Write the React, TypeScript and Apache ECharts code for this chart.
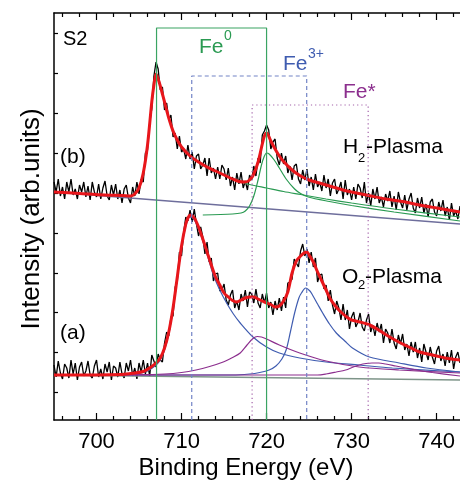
import React, { useEffect, useRef } from "react";
import * as echarts from "echarts";

// ---- axes ----
const xMin = 695;
const xMax = 742.75;
const yMin = 0;
const yMax = 407;
const majorTicks = [700, 710, 720, 730, 740];
const minorTicks = [696, 698, 702, 704, 706, 708, 712, 714, 716, 718, 722, 724, 726, 728, 732, 734, 736, 738, 742];
const yTicks = [28, 68, 108, 147, 187, 227, 267, 307, 347, 387];

// ---- measured spectra (sampled every 0.25 eV from 695 eV) ----
const energyStart = 695;
const energyStep = 0.25;
const rawB = [
  238, 228, 241, 224, 233, 221, 238, 228, 241, 225,
  231, 221, 235, 228, 238, 223, 234, 220, 238, 228,
  223, 236, 221, 232, 239, 224, 220, 235, 225, 236,
  221, 230, 217, 231, 235, 222, 217, 233, 224, 238,
  226, 241, 238, 267, 270, 297, 311, 344, 358, 351,
  330, 333, 310, 317, 300, 305, 283, 287, 271, 284,
  268, 271, 261, 275, 261, 268, 251, 264, 266, 251,
  255, 262, 244, 262, 247, 252, 241, 253, 241, 255,
  251, 240, 252, 234, 243, 230, 247, 236, 248, 232,
  239, 230, 245, 240, 254, 244, 262, 257, 285, 289,
  295, 290, 271, 278, 281, 262, 255, 267, 256, 264,
  247, 254, 240, 254, 256, 241, 236, 250, 240, 251,
  234, 243, 230, 246, 233, 238, 229, 245, 232, 241,
  224, 237, 241, 226, 231, 238, 221, 240, 225, 231,
  220, 233, 221, 236, 232, 222, 238, 217, 227, 214,
  231, 221, 233, 217, 223, 213, 226, 219, 229, 213,
  224, 210, 228, 218, 212, 225, 210, 221, 227, 212,
  207, 222, 212, 223, 207, 216, 203, 218, 221, 208,
  204, 218, 209, 220, 204, 213, 200, 217, 204, 209,
  201, 214,
];
const rawA = [
  55, 43, 59, 47, 41, 56, 52, 42, 60, 46,
  57, 40, 53, 58, 44, 49, 59, 45, 42, 54,
  60, 43, 51, 41, 56, 48, 58, 40, 54, 52,
  43, 58, 46, 42, 57, 49, 60, 44, 52, 41,
  57, 48, 60, 46, 57, 44, 65, 59, 53, 66,
  60, 58, 77, 88, 84, 103, 104, 133, 138, 168,
  164, 188, 203, 199, 210, 198, 211, 196, 184, 193,
  183, 166, 178, 158, 162, 139, 146, 147, 129, 130,
  136, 120, 115, 125, 130, 112, 119, 110, 126, 119,
  130, 113, 128, 126, 117, 131, 117, 112, 126, 117,
  127, 112, 118, 105, 119, 110, 122, 109, 123, 112,
  137, 138, 141, 161, 157, 153, 169, 176, 164, 171,
  157, 168, 153, 162, 138, 145, 146, 131, 135, 119,
  130, 115, 106, 119, 112, 100, 116, 100, 110, 91,
  103, 108, 93, 98, 107, 93, 89, 100, 106, 88,
  95, 84, 97, 88, 96, 77, 91, 87, 77, 91,
  77, 71, 85, 76, 86, 70, 76, 64, 78, 68,
  78, 62, 72, 58, 76, 68, 60, 73, 63, 56,
  69, 74, 59, 66, 54, 68, 57, 70, 51, 63,
  68, 57,
];

// ---- fits and components, spectrum (b) H2-plasma ----
const fitB = [
  [695, 228], [698, 226.5], [701, 225], [703, 224.5], [704, 224], [704.5, 226], [705, 232], [705.5, 247],
  [706, 275], [706.5, 318], [706.75, 335], [707, 346], [707.25, 341], [707.5, 334], [708, 318], [708.5, 302],
  [709, 289], [709.5, 280], [710, 273], [711, 264], [712, 258], [713, 253], [714, 249], [715, 245], [716, 241],
  [716.75, 238.5], [717.5, 238], [718, 240], [718.5, 246], [719, 258], [719.5, 276], [719.75, 284], [720, 287],
  [720.5, 279], [721, 271], [721.5, 264], [722, 258.5], [723, 250], [724, 244], [725, 240], [726, 237.5],
  [727, 235], [728, 232.5], [729, 230], [730, 228], [732, 224.5], [734, 221], [736, 218.5], [738, 215],
  [740, 212], [742.75, 208],
];
const backgroundB = [[695, 228], [742.75, 196]];
const fe0TailB = [
  [712, 258], [713, 253], [714, 249], [715, 245], [716, 241], [717, 238], [718, 235.5], [720, 232],
  [722, 228.5], [724, 225.5], [727, 221], [730, 217], [735, 211], [742.75, 203],
];
const fe0PeakB = [
  [712.5, 205], [716, 206], [717, 207], [717.5, 209], [718, 214], [718.5, 224], [719, 240], [719.4, 255],
  [719.7, 263], [720, 267], [720.3, 266], [720.9, 260], [721.5, 252], [722.3, 241], [723.3, 231],
  [724, 226.5], [724.9, 223], [727.4, 218.5], [730, 214.5], [735, 208], [742.75, 199],
];

// ---- fits and components, spectrum (a) O2-plasma ----
const fitA = [
  [695, 45], [703, 45.5], [704.5, 47], [705.5, 48.5], [706.25, 52], [707, 57], [707.5, 62], [708, 72],
  [708.5, 88], [709, 112], [709.5, 143], [710, 174], [710.5, 196], [710.75, 202], [711, 205], [711.5, 202],
  [712, 193], [712.5, 181], [713, 168], [713.5, 155], [714, 143], [714.5, 135], [715, 127], [715.5, 123],
  [716, 119.5], [716.5, 118], [717, 120], [717.5, 122], [718, 123], [718.5, 123], [719, 121], [719.5, 119],
  [720, 117], [720.5, 115.5], [721, 113], [721.5, 114], [722, 119], [722.5, 128], [723, 147], [723.5, 159],
  [724, 164], [724.5, 167.5], [724.75, 168], [725, 165], [725.5, 158], [726, 148], [726.5, 139], [727, 130],
  [727.5, 121], [728, 115], [728.5, 110], [729, 106], [729.5, 102.5], [730, 100], [731, 98], [732, 95.5],
  [733, 91], [734, 85.5], [735, 80.5], [736, 76], [737, 72], [738, 68], [739, 66], [740, 64], [741, 62],
  [742.75, 60],
];
const backgroundA = [[695, 45], [742.75, 40]];
const fe3MainA = [
  [695, 45], [703, 45.2], [705, 46.5], [706, 49], [707, 55], [707.5, 60], [708, 70], [708.5, 86], [709, 110],
  [709.5, 141], [710, 172], [710.5, 194], [711, 203], [711.5, 200], [712, 191], [712.5, 179], [713, 166],
  [713.7, 146], [714.5, 130], [715.3, 117], [716.1, 106], [716.9, 97], [718.4, 83], [720, 73], [721.5, 67],
  [723.9, 62], [727, 58], [730.9, 55], [734.8, 52], [742.75, 48],
];
const fe3SecondA = [
  [695, 45], [716, 45], [718, 46], [719.2, 47.5], [720.3, 50], [721.1, 54], [721.8, 61], [722.3, 70],
  [722.8, 88], [723.3, 107], [723.8, 122], [724.1, 127], [724.6, 132], [725.1, 129], [725.4, 125], [726, 116],
  [726.6, 107], [727.4, 96], [728.2, 87], [729.2, 79], [730.1, 72], [732.1, 63], [735.6, 57], [738.8, 52],
  [742.75, 48],
];
const satFirstA = [
  [695, 45], [705, 45.3], [708, 46], [710, 47.5], [711.7, 50], [713.3, 53.5], [714.9, 58], [716, 62.5],
  [716.9, 67], [717.7, 75], [718.4, 81.5], [718.9, 83.5], [719.4, 83], [720, 81], [721.5, 75], [723.9, 67],
  [727, 59], [730.9, 53], [735.6, 50], [742.75, 47],
];
const satSecondA = [
  [695, 45], [726, 45], [727, 46], [728.2, 48], [729.3, 50], [730.2, 53], [730.9, 55], [731.7, 56.5],
  [732.4, 57], [733.2, 57], [734, 56], [735.2, 54], [736.4, 52], [738, 49.5], [739.5, 47.5], [742.75, 44],
];

// ---- reference boxes (binding energies) ----
const fe0Edges = [707.06, 720.0];
const fe0Top = 392;
const fe3Edges = [711.2, 724.72];
const fe3Top = 344;
const feStarEdges = [718.3, 731.95];
const feStarTop = 315;

const FONT = '"Liberation Sans", Arial, Helvetica, sans-serif';
const RED = "#e8161b";
const GREEN = "#2a9a52";
const BLUE = "#3f5cb0";
const PURPLE = "#8c2f8e";

function toXY(raw: number[]) {
  return raw.map((v, i) => [energyStart + i * energyStep, v]);
}
function box(edges: number[], top: number) {
  return [[edges[0], 0], [edges[0], top], [edges[1], top], [edges[1], 0]];
}
function line(data: any, color: string, width: number, extra: any = {}) {
  return {
    type: "line",
    data,
    symbol: "none",
    silent: true,
    lineStyle: { color, width, ...(extra.lineStyle || {}) },
    smooth: extra.smooth ?? false,
    z: extra.z ?? 2,
  };
}
function txt(text: string, x: number, y: number, size: number, color = "#000", align = "left") {
  return {
    type: "text",
    x,
    y,
    silent: true,
    style: {
      text,
      x: 0,
      y: 0,
      fill: color,
      font: `${size}px ${FONT}`,
      textAlign: align,
      textVerticalAlign: "middle",
      verticalAlign: "middle",
    },
  };
}

export default function App() {
  const ref = useRef<HTMLDivElement>(null);
  useEffect(() => {
    if (!ref.current) return;
    const chart = echarts.init(ref.current, undefined, { renderer: "svg" });
    const baseX = { type: "value", min: xMin, max: xMax, splitLine: { show: false } };
    chart.setOption({
      animation: false,
      grid: { left: 54, top: 13, right: 0, bottom: 60 },
      xAxis: [
        {
          ...baseX,
          position: "bottom",
          axisLine: { show: true, lineStyle: { color: "#000", width: 1.5 } },
          axisTick: { show: true, inside: true, length: 7, customValues: majorTicks, lineStyle: { color: "#000", width: 1.2 } },
          axisLabel: { show: true, customValues: majorTicks, margin: 9, color: "#000", fontSize: 22, fontFamily: FONT },
        },
        {
          ...baseX,
          position: "bottom",
          axisLine: { show: false },
          axisTick: { show: true, inside: true, length: 4, customValues: minorTicks, lineStyle: { color: "#000", width: 1.2 } },
          axisLabel: { show: false },
        },
        {
          ...baseX,
          position: "top",
          axisLine: { show: true, lineStyle: { color: "#000", width: 1.5 } },
          axisTick: { show: true, inside: true, length: 7, customValues: majorTicks, lineStyle: { color: "#000", width: 1.2 } },
          axisLabel: { show: false },
        },
        {
          ...baseX,
          position: "top",
          axisLine: { show: false },
          axisTick: { show: true, inside: true, length: 4, customValues: minorTicks, lineStyle: { color: "#000", width: 1.2 } },
          axisLabel: { show: false },
        },
      ],
      yAxis: {
        type: "value",
        min: yMin,
        max: yMax,
        splitLine: { show: false },
        axisLine: { show: true, lineStyle: { color: "#000", width: 1.5 } },
        axisTick: { show: true, inside: true, length: 4, customValues: yTicks, lineStyle: { color: "#000", width: 1.2 } },
        axisLabel: { show: false },
      },
      series: [
        line(toXY(rawB), "#000", 1.3, { z: 2 }),
        line(toXY(rawA), "#000", 1.3, { z: 2 }),
        line(backgroundB, "#6e6e9c", 1.6, { z: 3 }),
        line(fe0TailB, GREEN, 1.2, { z: 3, smooth: 0.3 }),
        line(fe0PeakB, GREEN, 1.2, { z: 3, smooth: 0.3 }),
        line(backgroundA, "#7d9488", 1.6, { z: 3 }),
        line(fe3MainA, BLUE, 1.2, { z: 3, smooth: 0.3 }),
        line(fe3SecondA, BLUE, 1.2, { z: 3, smooth: 0.3 }),
        line(satFirstA, PURPLE, 1.2, { z: 3, smooth: 0.3 }),
        line(satSecondA, PURPLE, 1.2, { z: 3, smooth: 0.3 }),
        line(fitB, RED, 3, { z: 4, smooth: 0.3 }),
        line(fitA, RED, 3, { z: 4, smooth: 0.3 }),
        line(box(fe0Edges, fe0Top), "#3aa463", 1.2, { z: 5 }),
        line(box(fe3Edges, fe3Top), "#7283c6", 1.2, { z: 5, lineStyle: { type: [4, 3] } }),
        line(box(feStarEdges, feStarTop), "#a462aa", 1.2, { z: 5, lineStyle: { type: [1.2, 3] } }),
      ],
      graphic: [
        txt("S2", 63, 38, 20),
        txt("Fe", 199, 45, 21, GREEN),
        txt("0", 224, 35, 14, GREEN),
        txt("Fe", 283, 62, 21, BLUE),
        txt("3+", 308, 53, 14, BLUE),
        txt("Fe*", 343, 90, 21, PURPLE),
        txt("(b)", 60, 155, 21),
        txt("H", 343, 145, 21),
        txt("2", 358, 157, 13),
        txt("-Plasma", 366, 145, 21),
        txt("O", 342, 275, 21),
        txt("2", 358, 284, 13),
        txt("-Plasma", 365, 275, 21),
        txt("(a)", 60, 331, 21),
        txt("Binding Energy (eV)", 246, 466, 24, "#000", "center"),
        {
          ...txt("Intensity (arb.units)", 30, 219, 26, "#000", "center"),
          rotation: Math.PI / 2,
        },
      ],
    });
    return () => chart.dispose();
  }, []);
  return <div ref={ref} style={{ position: "fixed", left: 0, top: 0, width: 460, height: 480 }} />;
}
